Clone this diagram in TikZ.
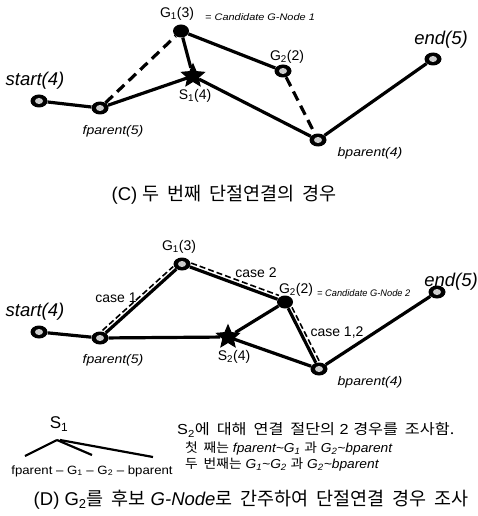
\documentclass[tikz,border=0pt]{standalone}
\usepackage{fontspec}
\setmainfont{Liberation Sans}
\newfontfamily\kr[WordSpace=1.9]{Noto Sans CJK KR}
\usetikzlibrary{shapes.geometric}
\tikzset{
 vtx/.style={ellipse, fill=black, minimum width=17pt, minimum height=13pt, inner sep=0pt,
   path picture={\fill[gray!40] (path picture bounding box.center) ellipse (4pt and 3pt);}},
 gvtx/.style={ellipse, fill=black, minimum width=16pt, minimum height=13pt, inner sep=0pt},
 snode/.style={star, star points=5, star point ratio=2.2, fill=black, draw=black, line width=1pt, minimum size=24pt, inner sep=0pt},
 edge/.style={line width=3.2pt},
 dedge/.style={line width=3.2pt, dash pattern=on 10pt off 6pt},
 cdash/.style={line width=1.6pt, dash pattern=on 6pt off 3pt},
 lbl/.style={inner sep=0pt, font=\fontsize{14}{16}\selectfont},
 ilbl/.style={inner sep=0pt, font=\fontsize{12.5}{15}\selectfont\itshape, xscale=1.12},
 cand/.style={inner sep=0pt, font=\fontsize{9.5}{11}\selectfont\itshape, xscale=1.15},
 big/.style={inner sep=0pt, font=\fontsize{18.5}{22}\selectfont\itshape},
 captxt/.style={inner sep=0pt, font=\fontsize{18.5}{22}\selectfont},
 note/.style={inner sep=0pt, font=\fontsize{14.5}{17}\selectfont, anchor=west, xscale=1.12},
 notes/.style={inner sep=0pt, font=\fontsize{13}{15}\selectfont, anchor=west, xscale=1.06},
}
\begin{document}
\begin{tikzpicture}[x=1pt,y=-1pt]
\useasboundingbox (0,0) rectangle (478,516);
% ---------- (C) ----------
\node[vtx] (cs) at (39,101) {};
\node[vtx] (cf) at (100,108) {};
\node[gvtx] (cg1) at (181,31) {};
\node[snode] (cs1) at (193,76) {};
\node[vtx] (cg2) at (283,71) {};
\node[vtx] (cb) at (318,140) {};
\node[vtx] (ce) at (433,59) {};
\draw[edge] (cs) -- (cf);
\draw[edge] (cf) -- (cs1);
\draw[dedge] (cf) -- (cg1);
\draw[edge] (cg1) -- (cs1);
\draw[edge] (cg1) -- (cg2);
\draw[edge] (cs1) -- (cb);
\draw[dedge] (cg2) -- (cb);
\draw[edge] (cb) -- (ce);
\node[big] (lcs) at (35,81) {start(4)};
\node[ilbl] (lcf) at (113,131) {fparent(5)};
\node[lbl] (lcg1) at (177,14) {G\textsubscript{1}(3)};
\node[cand, anchor=west] (lcand1) at (205,17) {= Candidate G-Node 1};
\node[lbl] (lcs1) at (195,96) {S\textsubscript{1}(4)};
\node[lbl] (lcg2) at (287,57) {G\textsubscript{2}(2)};
\node[big] (lce) at (441,40) {end(5)};
\node[ilbl] (lcb) at (370,153) {bparent(4)};
\node[captxt] (capc) at (224,195) {(C) \kr 두 번째 단절연결의 경우};
% ---------- (D) ----------
\node[vtx] (ds) at (39,332) {};
\node[vtx] (df) at (100,338) {};
\node[vtx] (dg1) at (182,264) {};
\node[snode] (ds2) at (228,337) {};
\node[gvtx] (dg2) at (285,302) {};
\node[vtx] (db) at (319,369) {};
\node[vtx] (de) at (437,292) {};
\draw[edge] (ds) -- (df);
\draw[edge] (df) -- (dg1);
\draw[edge] (dg1) -- (dg2);
\draw[edge] (df) -- (ds2);
\draw[edge] (dg2) -- (ds2);
\draw[edge] (ds2) -- (db);
\draw[edge] (dg2) -- (db);
\draw[edge] (db) -- (de);
\draw[cdash, transform canvas={shift={(-3.2pt,2.5pt)}}] (df) -- (dg1);
\draw[cdash, transform canvas={shift={(1.4pt,3.8pt)}}] (dg1) -- (dg2);
\draw[cdash, transform canvas={shift={(3.8pt,0.9pt)}}] (dg2) -- (db);
\node[big] (lds) at (35,312) {start(4)};
\node[ilbl] (ldf) at (113,360) {fparent(5)};
\node[lbl] (ldg1) at (179,247) {G\textsubscript{1}(3)};
\node[lbl] (lc1) at (116,298) {case 1};
\node[lbl] (lc2) at (256,273) {case 2};
\node[lbl] (ldg2) at (296,290) {G\textsubscript{2}(2)};
\node[cand, anchor=west, xscale=0.85] (lcand2) at (317,293) {= Candidate G-Node 2};
\node[big] (lde) at (451,282) {end(5)};
\node[lbl] (lc12) at (337,333) {case 1,2};
\node[lbl] (lds2) at (234,357) {S\textsubscript{2}(4)};
\node[ilbl] (ldb) at (370,382) {bparent(4)};
% ---------- tree ----------
\node[inner sep=0pt, font=\fontsize{17}{20}\selectfont] (ts1) at (59,424) {S\textsubscript{1}};
\coordinate (troot) at (57,440);
\coordinate (troot2) at (60,440);
\coordinate (tl1) at (25,456);
\coordinate (tl2) at (92,455);
\coordinate (tl3) at (153,457);
\draw[line width=2.2pt] (troot) -- (tl1);
\draw[line width=2.2pt] (troot) -- (tl2);
\draw[line width=2.2pt] (troot2) -- (tl3);
\node[inner sep=0pt, font=\fontsize{12}{14}\selectfont, xscale=1.1] (tseq) at (92,471) {fparent -- G\textsubscript{1} -- G\textsubscript{2} -- bparent};
\node[note] (n1) at (177,430) {S\textsubscript{2}{\kr 에 대해 연결 절단의} 2 {\kr 경우를 조사함.}};
\node[notes] (n2) at (185,448) {{\kr 첫 째는} \textit{fparent\textasciitilde G\textsubscript{1}} {\kr 과} \textit{G\textsubscript{2}\textasciitilde bparent}};
\node[notes] (n3) at (185,464) {{\kr 두 번째는} \textit{G\textsubscript{1}\textasciitilde G\textsubscript{2}} {\kr 과} \textit{G\textsubscript{2}\textasciitilde bparent}};
\node[captxt] (capd) at (251,500) {(D) G\textsubscript{2}{\kr 를 후보} \textit{G-Node}{\kr 로 간주하여 단절연결 경우 조사}};
\end{tikzpicture}
\end{document}
